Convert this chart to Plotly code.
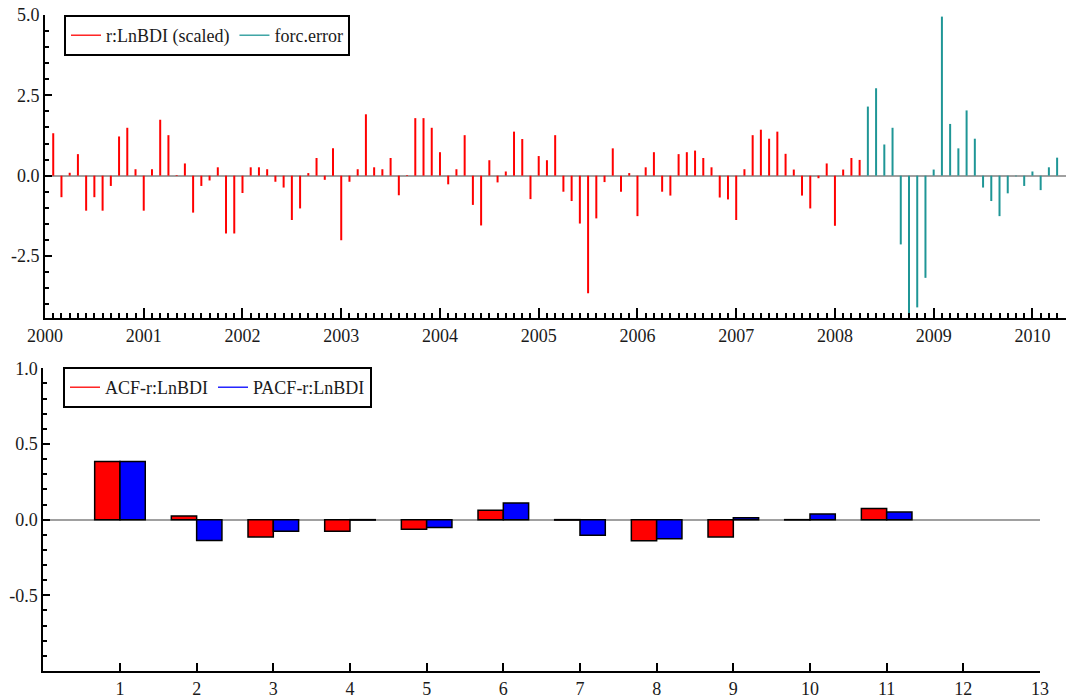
import pandas as pd
import plotly.graph_objects as go

# ---------------- data ----------------
# monthly series r:LnBDI (scaled), Feb 2000 .. Apr 2008
red_start, red_end = "2000-02", "2008-04"
red_values = [
    1.32, -0.67, 0.09, 0.67, -1.09, -0.67, -1.09, -0.32, 1.22, 1.49, 0.20,
    -1.09, 0.20, 1.74, 1.26, 0.02, 0.38, -1.15, -0.32, -0.15, 0.26, -1.80, -1.80,
    -0.54, 0.26, 0.26, 0.20, -0.19, -0.37, -1.38, -1.02, 0.08, 0.55, -0.13, 0.85,
    -2.01, -0.19, 0.20, 1.91, 0.26, 0.20, 0.55, -0.61, 0.02, 1.79, 1.79, 1.49,
    0.73, -0.27, 0.20, 1.26, -0.91, -1.55, 0.48, -0.21, 0.13, 1.37, 1.14, -0.73,
    0.61, 0.48, 1.26, -0.50, -0.79, -1.49, -3.66, -1.33, -0.20, 0.85, -0.50, 0.08,
    -1.26, 0.26, 0.73, -0.50, -0.62, 0.67, 0.73, 0.78, 0.55, 0.26, -0.68, -0.74,
    -1.38, 0.20, 1.26, 1.43, 1.15, 1.37, 0.68, 0.19, -0.62, -1.02, -0.08, 0.38,
    -1.56, 0.19, 0.55, 0.49,
]
# forecast error, May 2008 .. Apr 2010
teal_start, teal_end = "2008-05", "2010-04"
teal_values = [
    2.15, 2.72, 0.97, 1.49, -2.14, -4.60, -4.10, -3.18,
    0.19, 4.95, 1.61, 0.85, 2.03, 1.15, -0.37, -0.79, -1.26, -0.55, -0.02, -0.32,
    0.13, -0.45, 0.26, 0.56,
]
year_ticks = list(range(2000, 2011))

# correlogram
lags = [1, 2, 3, 4, 5, 6, 7, 8, 9, 10, 11]
acf_values = [0.385, 0.024, -0.114, -0.077, -0.064, 0.062, -0.003, -0.140, -0.114, -0.002, 0.073]
pacf_values = [0.385, -0.138, -0.077, -0.003, -0.052, 0.110, -0.103, -0.127, 0.013, 0.037, 0.050]
lag_ticks = list(range(1, 14))

RED = "#ff0000"
TEAL = "#1f9696"
BLUE = "#0000ff"
FONT = "Liberation Serif"
FS = 18


def decimal_years(start, end):
    p = pd.period_range(start, end, freq="M")
    return [d.year + (d.month - 1) / 12 for d in p]


def spikes(xs, ys):
    sx, sy = [], []
    for a, b in zip(xs, ys):
        sx += [a, a, None]
        sy += [0, b, None]
    return sx, sy


fig = go.Figure()

rx, ry = spikes(decimal_years(red_start, red_end), red_values)
tx, ty = spikes(decimal_years(teal_start, teal_end), teal_values)
fig.add_trace(go.Scatter(x=rx, y=ry, mode="lines", line=dict(color=RED, width=2),
                         showlegend=False, xaxis="x", yaxis="y", hoverinfo="skip"))
fig.add_trace(go.Scatter(x=tx, y=ty, mode="lines", line=dict(color=TEAL, width=2),
                         showlegend=False, xaxis="x", yaxis="y", hoverinfo="skip"))
# legend entries (line samples)
fig.add_trace(go.Scatter(x=[None], y=[None], mode="lines", line=dict(color=RED, width=1.3),
                         name="r:LnBDI (scaled)", legend="legend", xaxis="x", yaxis="y"))
fig.add_trace(go.Scatter(x=[None], y=[None], mode="lines", line=dict(color=TEAL, width=1.3),
                         name="forc.error", legend="legend", xaxis="x", yaxis="y"))

fig.add_trace(go.Bar(x=lags, y=acf_values, width=0.33, offset=-0.33,
                     marker=dict(color=RED, line=dict(color="black", width=1.5)),
                     showlegend=False, xaxis="x2", yaxis="y2"))
fig.add_trace(go.Bar(x=lags, y=pacf_values, width=0.33, offset=0,
                     marker=dict(color=BLUE, line=dict(color="black", width=1.5)),
                     showlegend=False, xaxis="x2", yaxis="y2"))
fig.add_trace(go.Scatter(x=[None], y=[None], mode="lines", line=dict(color=RED, width=1.3),
                         name="ACF-r:LnBDI", legend="legend2", xaxis="x2", yaxis="y2"))
fig.add_trace(go.Scatter(x=[None], y=[None], mode="lines", line=dict(color=BLUE, width=1.3),
                         name="PACF-r:LnBDI", legend="legend2", xaxis="x2", yaxis="y2"))

W, H = 1078, 700
tickfont = dict(family=FONT, size=FS, color="#1a1a1a")
axis_common = dict(showline=True, linecolor="black", linewidth=2, showgrid=False,
                   ticks="inside", tickcolor="black", tickwidth=1.5, tickfont=tickfont,
                   automargin=False)

fig.update_layout(
    width=W, height=H,
    margin=dict(l=0, r=0, t=0, b=0),
    paper_bgcolor="white", plot_bgcolor="white",
    barmode="overlay",
    template="none",
    xaxis=dict(axis_common, domain=[45 / W, 1066 / W], range=[2000, 2010.34], anchor="y",
               tickmode="array", tickvals=year_ticks, ticktext=[str(y) for y in year_ticks],
               ticklen=10, zeroline=False,
               minor=dict(tickmode="linear", tick0=2000, dtick=1 / 12, ticks="inside",
                          ticklen=5, tickcolor="black", tickwidth=1.5, showgrid=False)),
    yaxis=dict(axis_common, domain=[(H - 318) / H, (H - 15) / H], range=[-4.43, 5.0], anchor="x",
               tickmode="array", tickvals=[-2.5, 0, 2.5, 5.0], ticktext=["-2.5", "0.0", "2.5", "5.0"],
               ticklen=7, zeroline=True, zerolinecolor="#a0a0a0", zerolinewidth=1.5,
               minor=dict(tickmode="linear", tick0=0, dtick=0.5, ticks="inside",
                          ticklen=4, tickcolor="black", tickwidth=1.5, showgrid=False)),
    xaxis2=dict(axis_common, domain=[43.3 / W, 1040 / W], range=[0, 13], anchor="y2",
                tickmode="array", tickvals=lag_ticks, ticktext=[str(v) for v in lag_ticks],
                ticklen=8, zeroline=False),
    yaxis2=dict(axis_common, domain=[(H - 671) / H, (H - 368.3) / H], range=[-1, 1], anchor="x2",
                tickmode="array", tickvals=[-0.5, 0, 0.5, 1.0], ticktext=["-0.5", "0.0", "0.5", "1.0"],
                ticklen=7, zeroline=True, zerolinecolor="#a0a0a0", zerolinewidth=1.5,
                minor=dict(tickmode="linear", tick0=0, dtick=0.1, ticks="inside",
                           ticklen=4, tickcolor="black", tickwidth=1.5, showgrid=False)),
    legend=dict(x=64 / W, y=1 - 15 / H, xanchor="left", yanchor="top", orientation="h",
                bordercolor="black", borderwidth=2, bgcolor="white",
                font=dict(family=FONT, size=FS, color="#1a1a1a"),
                itemwidth=30, tracegroupgap=0),
    legend2=dict(x=63 / W, y=1 - 367 / H, xanchor="left", yanchor="top", orientation="h",
                 bordercolor="black", borderwidth=2, bgcolor="white",
                 font=dict(family=FONT, size=FS, color="#1a1a1a"),
                 itemwidth=30, tracegroupgap=0),
)

fig.write_html("out.html")
